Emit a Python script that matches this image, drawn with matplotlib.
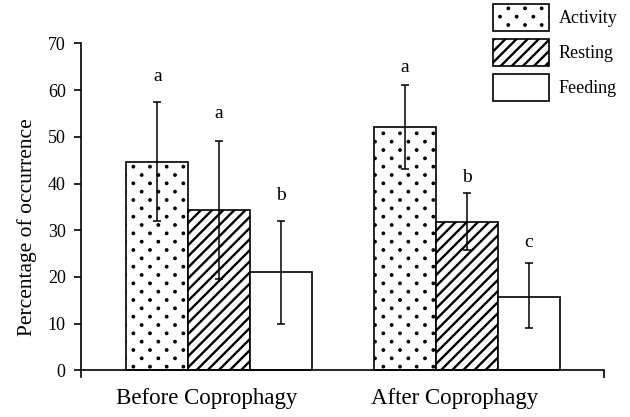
import numpy as np
import matplotlib
matplotlib.use("Agg")
import matplotlib.pyplot as plt
import matplotlib.hatch as mhatch
from matplotlib.patches import Patch

plt.rcParams['font.family'] = ['Liberation Serif', 'DejaVu Serif']


# the printed figure has small dots on a tighter staggered grid than
# matplotlib's '.' hatch (rows twice as close), so swap in our own version
class StaggeredDots(mhatch.SmallFilledCircles):
    size = 0.08

    def __init__(self, hatch, density):
        super().__init__(hatch, density)
        n = self.num_rows
        if n:
            self.num_shapes = (n + 1) ** 2 + n ** 2
            self.num_vertices = self.num_shapes * len(self.shape_vertices)

    def set_vertices_and_codes(self, vertices, codes):
        n = self.num_rows
        step = 1.0 / n
        shape = self.shape_vertices * step * self.size
        parts = []
        for row in range(2 * n + 1):
            if row % 2 == 0:
                cols = np.linspace(0, 1, n + 1)
            else:
                cols = np.linspace(step / 2, 1 - step / 2, n)
            for c in cols:
                parts.append(shape + [c, row * step / 2])
        vertices[:] = np.concatenate(parts)
        codes[:] = np.tile(self.shape_codes, len(parts))


mhatch._hatch_types[mhatch._hatch_types.index(mhatch.SmallFilledCircles)] = StaggeredDots

groups = ['Before Coprophagy', 'After Coprophagy']
behaviours = ['Activity', 'Resting', 'Feeding']
hatches = ['.', '///', '']
hatch_lw = [0.8, 1.7, 1.0]

# mean % occurrence (rows = behaviour, cols = group)
means = [[44.7, 52.0],
         [34.3, 31.7],
         [21.0, 15.8]]
lower = [[32.0, 43.2],
         [19.5, 25.8],
         [10.0, 9.0]]
upper = [[57.5, 61.0],
         [49.2, 38.0],
         [32.0, 23.0]]
letters = [['a', 'a'],
           ['a', 'b'],
           ['b', 'c']]
letter_y = [[62.9, 64.9],
            [55.0, 41.3],
            [37.4, 27.4]]

fig = plt.figure(figsize=(6.3, 4.17), dpi=100)
ax = fig.add_axes([0.1286, 0.096, 0.83, 0.80])

group_x = np.arange(len(groups)) * 4
for i, b in enumerate(behaviours):
    x = group_x + i
    m = np.array(means[i])
    err = [m - np.array(lower[i]), np.array(upper[i]) - m]
    with plt.rc_context({'hatch.linewidth': hatch_lw[i]}):
        bars = ax.bar(x, m, width=1.0, color='white', edgecolor='black',
                      linewidth=1.2, hatch=hatches[i], zorder=2)
    ax.errorbar(x, m, yerr=err, fmt='none', ecolor='black', elinewidth=1.1,
                capsize=2.6, capthick=1.1, zorder=3)
    for j in range(len(groups)):
        ax.text(x[j], letter_y[i][j], letters[i][j], ha='center', va='center',
                fontsize=14)

ax.set_ylim(-1.4, 70)
ax.set_xlim(-1.23, 7.21)
ax.spines['bottom'].set_position(('data', 0))
ax.spines['left'].set_bounds(-1.4, 70)
ax.spines['top'].set_visible(False)
ax.spines['right'].set_visible(False)
for s in ['left', 'bottom']:
    ax.spines[s].set_linewidth(1.2)

ax.set_yticks(np.arange(0, 71, 10))
ax.tick_params(axis='y', direction='out', length=5, width=1.2, labelsize=13, pad=6)
ax.set_xticks(group_x + 0.8)
ax.set_xticklabels(groups, fontsize=16.5)
ax.tick_params(axis='x', length=0, pad=13)
ax.set_xticks([7.21], minor=True)
ax.tick_params(axis='x', which='minor', length=6, width=1.2, direction='out')
ax.set_ylabel('Percentage of occurrence', fontsize=15.5)
ax.yaxis.set_label_coords(-0.084, 0.448)

handles = [Patch(facecolor='white', edgecolor='black', linewidth=1.2, hatch=h)
           for h in hatches]
leg = fig.legend(handles, behaviours, loc='upper left',
                 bbox_to_anchor=(0.782, 0.99), frameon=False, fontsize=13,
                 handlelength=3.1, handleheight=1.91, handletextpad=0.55,
                 labelspacing=0.44, borderpad=0, borderaxespad=0)
# legend makes its own patches, give them the same hatch weights as the bars
for p, lw in zip(leg.get_patches(), hatch_lw):
    if hasattr(p, 'set_hatch_linewidth'):
        p.set_hatch_linewidth(lw)
    else:
        p._hatch_linewidth = lw

fig.savefig('out.png', dpi=100)
